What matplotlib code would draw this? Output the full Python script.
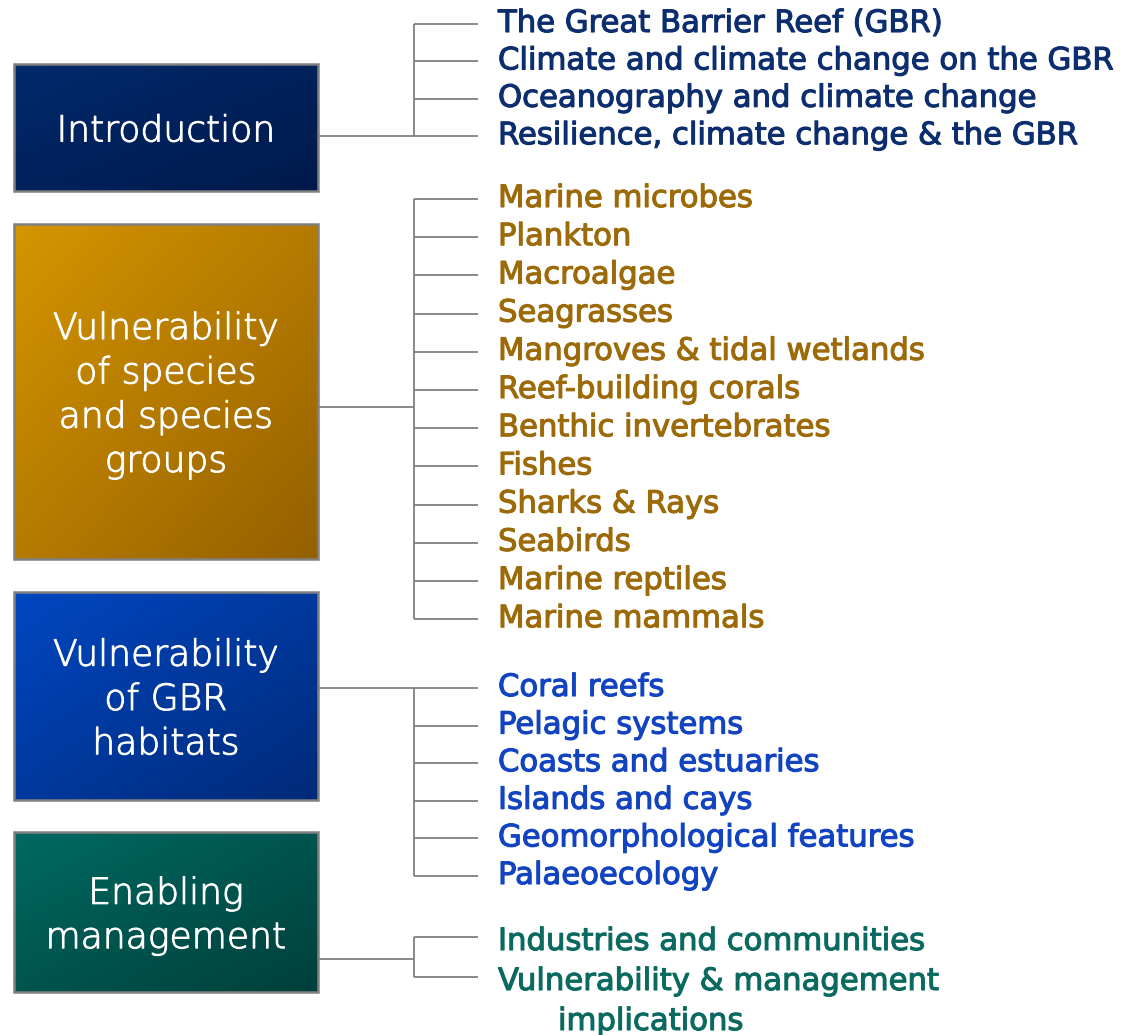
import numpy as np
import matplotlib
matplotlib.use("Agg")
import matplotlib.pyplot as plt
import matplotlib.patheffects as pe
from matplotlib.colors import LinearSegmentedColormap
from matplotlib.patches import Rectangle

# sections (box text) and their chapter lists
section_titles = [
    ["Introduction"],
    ["Vulnerability", "of species", "and species", "groups"],
    ["Vulnerability", "of GBR", "habitats"],
    ["Enabling", "management"],
]
intro_items = [
    "The Great Barrier Reef (GBR)",
    "Climate and climate change on the GBR",
    "Oceanography and climate change",
    "Resilience, climate change & the GBR",
]
species_items = [
    "Marine microbes", "Plankton", "Macroalgae", "Seagrasses",
    "Mangroves & tidal wetlands", "Reef-building corals",
    "Benthic invertebrates", "Fishes", "Sharks & Rays", "Seabirds",
    "Marine reptiles", "Marine mammals",
]
habitat_items = [
    "Coral reefs", "Pelagic systems", "Coasts and estuaries",
    "Islands and cays", "Geomorphological features", "Palaeoecology",
]
management_items = [
    "Industries and communities",
    "Vulnerability & management",
]
management_extra = "implications"   # wrapped second line of last item
section_items = [intro_items, species_items, habitat_items, management_items]

# gradient colours (light top-left, dark bottom-right) and text colours
box_light = ["#002a6c", "#d69500", "#0047c2", "#006a62"]
box_dark = ["#00194a", "#946000", "#002a78", "#003f3b"]
text_colors = ["#0c2d6e", "#9c6a08", "#1243c0", "#0b6a60"]

# layout in pixels
box_top = [64, 224, 592, 832]
box_bot = [191, 559, 800, 992]
box_x0, box_x1 = 14, 318
first_item_y = [24, 199, 688, 937]
item_step = [37.4, 38.2, 37.6, 40.0]
text_dy = [8, 8, 8, 13]
joint_y = [136, 407, 688, 959]
bus_x, tick_x1, text_x = 414, 478, 498

fig = plt.figure(figsize=(11.47, 10.35), dpi=100)
ax = fig.add_axes([0, 0, 1, 1])
ax.set_xlim(0, 1147)
ax.set_ylim(1035, 0)
ax.axis("off")

gx, gy = np.meshgrid(np.linspace(0, 1, 200), np.linspace(0, 1, 200))
grad = (gx + gy) / 2

line_kw = dict(color="#808080", lw=1.3, solid_capstyle="butt", zorder=1)


def item_text(x, y, s, c):
    ax.text(x, y, s, color=c, ha="left", va="baseline", fontsize=22.1,
            family="DejaVu Sans", zorder=4,
            path_effects=[pe.withStroke(linewidth=0.8, foreground=c)])


for k in range(4):
    y0, y1 = box_top[k], box_bot[k]
    cmap = LinearSegmentedColormap.from_list("g%d" % k, [box_light[k], box_dark[k]])
    ax.imshow(grad, cmap=cmap, extent=[box_x0, box_x1, y1, y0], aspect="auto",
              interpolation="bilinear", zorder=2)
    ax.add_patch(Rectangle((box_x0, y0), box_x1 - box_x0, y1 - y0, fill=False,
                           ec="#808080", lw=1.8, zorder=3))

    # white title lines centred in the box
    lines = section_titles[k]
    cy = (y0 + y1) / 2
    for i, t in enumerate(lines):
        base = cy - (len(lines) - 1) / 2 * 44.3 + i * 44.3 + 14
        ax.text(166, base, t, color="white", ha="center", va="baseline",
                fontsize=26, family="DejaVu Sans", fontweight="light",
                zorder=4, path_effects=[pe.withStroke(linewidth=0.7, foreground="white")])

    # connectors
    items = section_items[k]
    ys = [first_item_y[k] + i * item_step[k] for i in range(len(items))]
    ax.plot([box_x1, bus_x], [joint_y[k], joint_y[k]], **line_kw)
    ax.plot([bus_x, bus_x], [ys[0], ys[-1]], **line_kw)
    for y, t in zip(ys, items):
        ax.plot([bus_x, tick_x1], [y, y], **line_kw)
        item_text(text_x, y + text_dy[k], t, text_colors[k])

# continuation line of the last item
item_text(558, ys[-1] + text_dy[3] + 40, management_extra, text_colors[3])

fig.savefig("out.png", dpi=100)
